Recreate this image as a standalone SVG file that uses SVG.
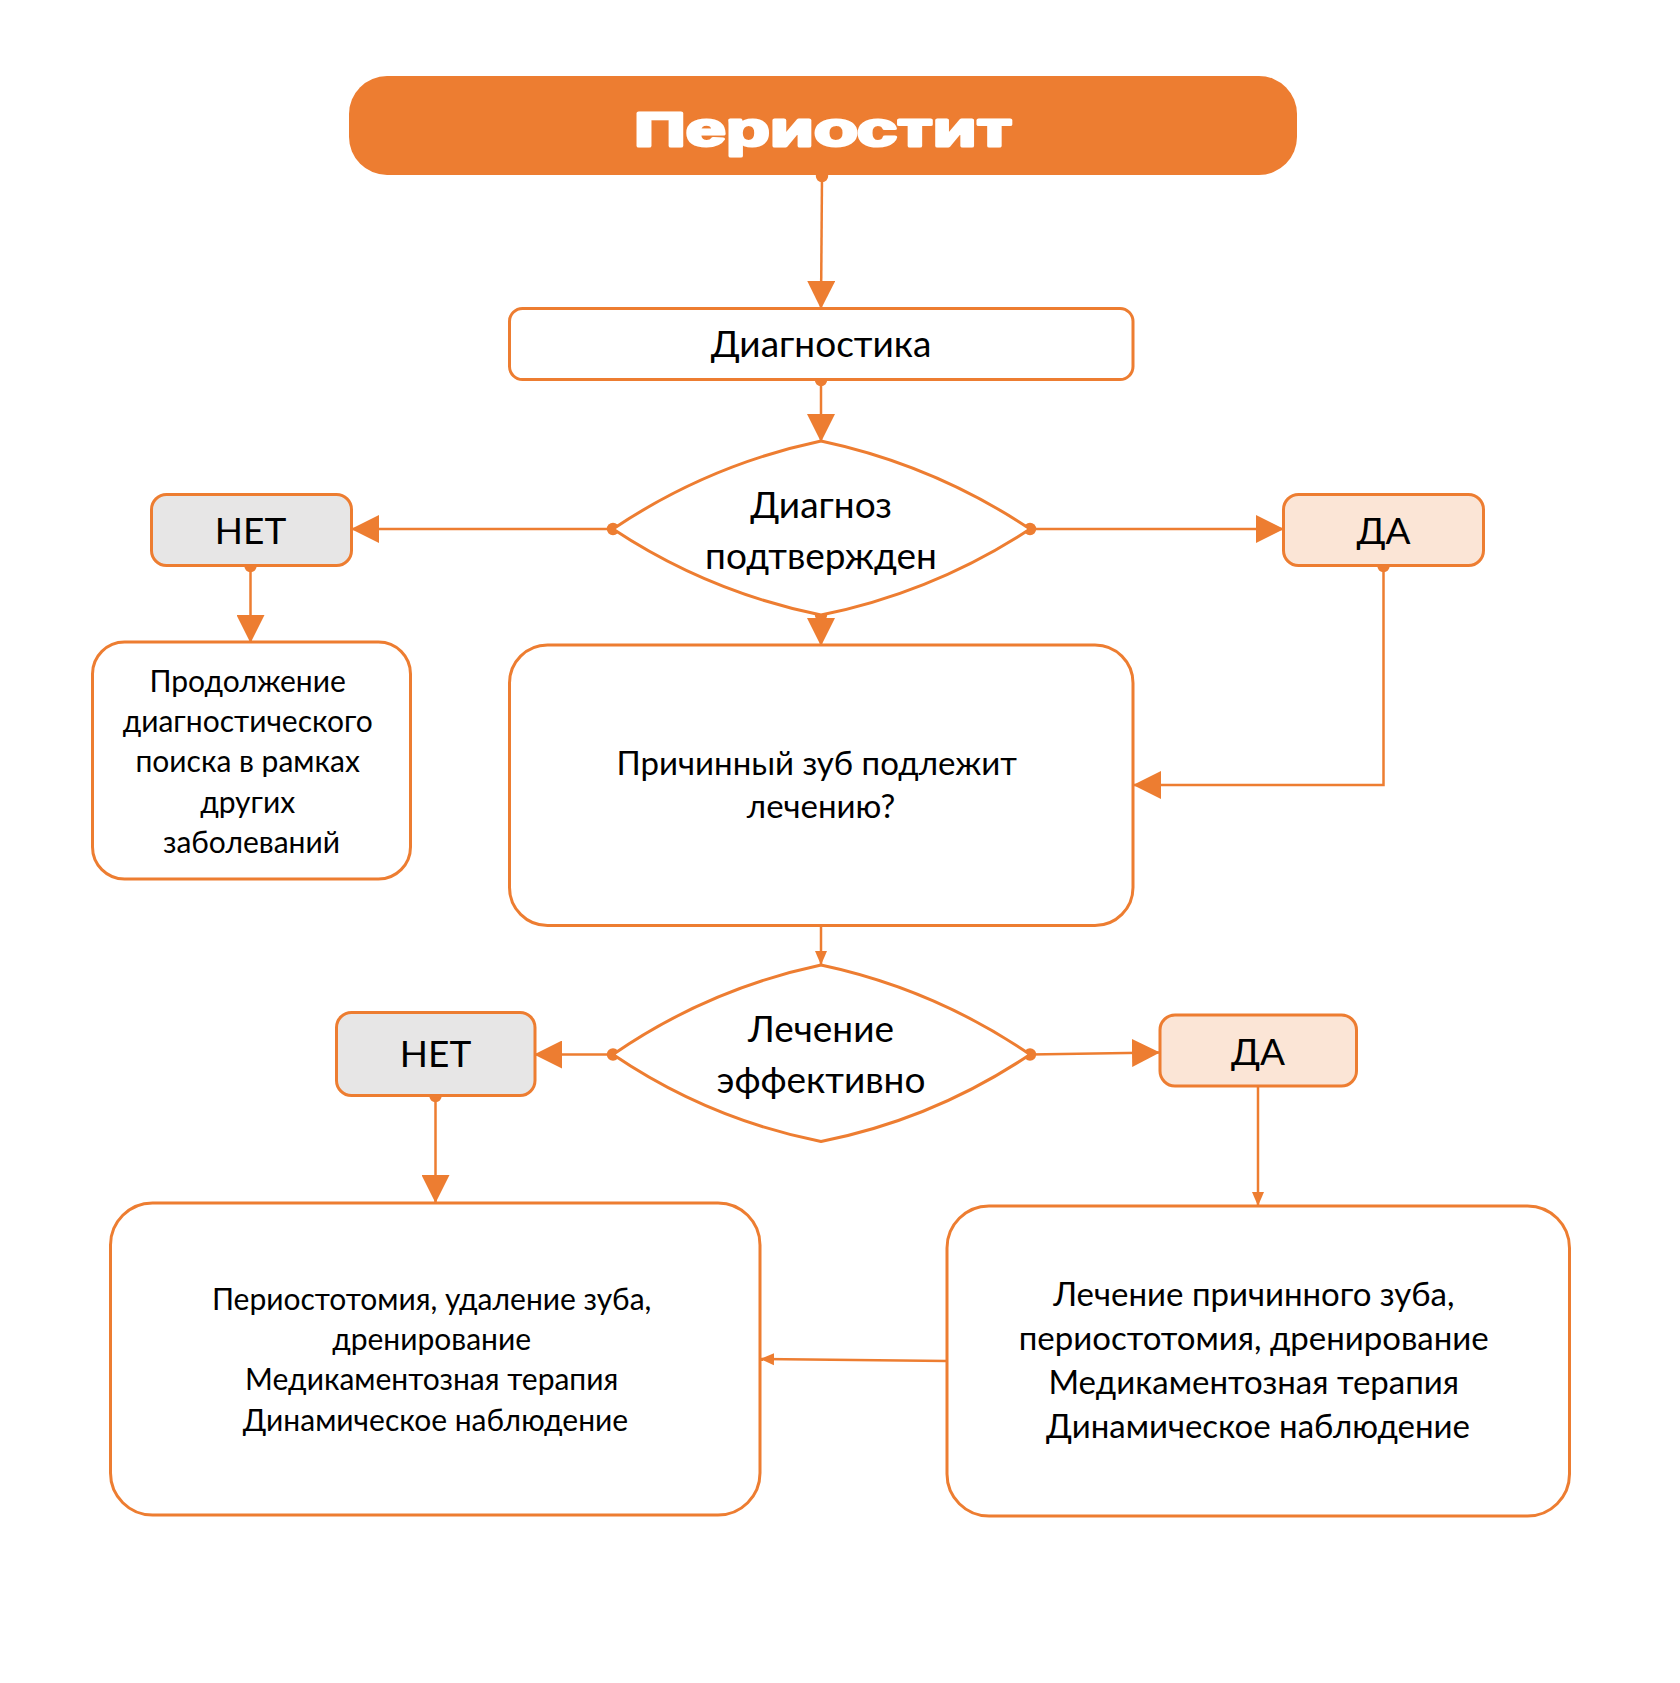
<svg xmlns="http://www.w3.org/2000/svg" width="1680" height="1683" viewBox="0 0 1680 1683">
<defs>
<style>
.box{fill:#ffffff;stroke:#ED7D31;stroke-width:3}
.no{fill:#E7E6E6;stroke:#ED7D31;stroke-width:3}
.yes{fill:#FBE5D6;stroke:#ED7D31;stroke-width:3}
.dia{fill:#ffffff;stroke:#ED7D31;stroke-width:3;stroke-linejoin:round}
.con{fill:none;stroke:#ED7D31;stroke-width:2.5}
.t{font-family:Lato,"Open Sans","Liberation Sans",sans-serif;fill:#000000;text-anchor:middle}
</style>
<marker id="big" viewBox="0 0 28 28" refX="27" refY="14" markerWidth="28" markerHeight="28" markerUnits="userSpaceOnUse" orient="auto">
<path d="M0,0 L28,14 L0,28 Z" fill="#ED7D31"/>
</marker>
<marker id="small" viewBox="0 0 14 14" refX="13" refY="7" markerWidth="14" markerHeight="14" markerUnits="userSpaceOnUse" orient="auto">
<path d="M0,1 L14,7 L0,13 Z" fill="#ED7D31"/>
</marker>
<marker id="dot" viewBox="0 0 14 14" refX="7" refY="7" markerWidth="14" markerHeight="14" markerUnits="userSpaceOnUse">
<circle cx="7" cy="7" r="6.2" fill="#ED7D31"/>
</marker>
</defs>
<rect width="1680" height="1683" fill="#ffffff"/>

<g id="connectors">
<path class="con" d="M822,176 L821,308" marker-start="url(#dot)" marker-end="url(#big)"/>
<path class="con" d="M821,380 L821,441" marker-start="url(#dot)" marker-end="url(#big)"/>
<path class="con" d="M613,529 L352,529" marker-start="url(#dot)" marker-end="url(#big)"/>
<path class="con" d="M1030,529 L1283,529" marker-start="url(#dot)" marker-end="url(#big)"/>
<path class="con" d="M250.5,566 L250.5,642" marker-start="url(#dot)" marker-end="url(#big)"/>
<path class="con" d="M821,615 L821,645" marker-start="url(#dot)" marker-end="url(#big)"/>
<path class="con" d="M1383.5,566 L1383.5,785 L1134,785" marker-start="url(#dot)" marker-end="url(#big)"/>
<path class="con" d="M821,926 L821,964" marker-end="url(#small)"/>
<path class="con" d="M613,1054.5 L535,1054.5" marker-start="url(#dot)" marker-end="url(#big)"/>
<path class="con" d="M1030,1054.5 L1159,1052.5" marker-start="url(#dot)" marker-end="url(#big)"/>
<path class="con" d="M435.5,1096 L435.5,1202" marker-start="url(#dot)" marker-end="url(#big)"/>
<path class="con" d="M1258,1086 L1258,1205" marker-end="url(#small)"/>
<path class="con" d="M947,1361 L761,1359" marker-end="url(#small)"/>
</g>

<g id="title">
<rect x="349" y="76" width="948" height="99" rx="38" fill="#ED7D31"/>
<text x="823" y="146" font-family="'Liberation Sans',Arial,sans-serif" font-weight="bold" font-size="48" fill="#ffffff" stroke="#ffffff" stroke-width="3" stroke-linejoin="round" text-anchor="middle" textLength="378" lengthAdjust="spacingAndGlyphs">Периостит</text>
</g>

<g id="diagnostika">
<rect class="box" x="509.5" y="308.5" width="623.5" height="71" rx="13"/>
<text class="t" x="821" y="357" font-size="37">Диагностика</text>
</g>

<g id="decision1">
<path class="dia" d="M821,441 Q708,465 613,529 Q708,592 821,615 Q934,592 1030,529 Q934,465 821,441 Z"/>
<text class="t" x="821" y="518" font-size="37">Диагноз</text>
<text class="t" x="821" y="569" font-size="37">подтвержден</text>
</g>

<g id="no1">
<rect class="no" x="151.5" y="494.5" width="200" height="71" rx="15"/>
<text class="t" x="250.5" y="544" font-size="37">НЕТ</text>
</g>

<g id="yes1">
<rect class="yes" x="1283.5" y="494.5" width="200" height="71" rx="15"/>
<text class="t" x="1383.5" y="544" font-size="37">ДА</text>
</g>

<g id="continue">
<rect class="box" x="92.5" y="642" width="318" height="237" rx="32"/>
<text class="t" font-size="30">
<tspan x="251.5" y="692">Продолжение</tspan>
<tspan x="251.5" y="732">диагностического</tspan>
<tspan x="251.5" y="772">поиска в рамках</tspan>
<tspan x="251.5" y="813">других</tspan>
<tspan x="251.5" y="853">заболеваний</tspan>
</text>
</g>

<g id="tooth">
<rect class="box" x="509.5" y="645" width="623.5" height="280.5" rx="38"/>
<text class="t" font-size="33">
<tspan x="821" y="775">Причинный зуб подлежит</tspan>
<tspan x="821" y="818">лечению?</tspan>
</text>
</g>

<g id="decision2">
<path class="dia" d="M821,965 Q708,989 613,1054.5 Q708,1119 821,1141.5 Q934,1119 1030,1054.5 Q934,989 821,965 Z"/>
<text class="t" x="821" y="1042" font-size="37">Лечение</text>
<text class="t" x="821" y="1093" font-size="37">эффективно</text>
</g>

<g id="no2">
<rect class="no" x="336.5" y="1012.5" width="198.5" height="83" rx="15"/>
<text class="t" x="435.5" y="1067" font-size="37">НЕТ</text>
</g>

<g id="yes2">
<rect class="yes" x="1160" y="1015" width="196.5" height="71" rx="15"/>
<text class="t" x="1258" y="1065" font-size="37">ДА</text>
</g>

<g id="surgery">
<rect class="box" x="110.5" y="1203" width="649.5" height="312" rx="42"/>
<text class="t" font-size="30">
<tspan x="435.5" y="1310">Периостотомия, удаление зуба,</tspan>
<tspan x="435.5" y="1350">дренирование</tspan>
<tspan x="435.5" y="1390">Медикаментозная терапия</tspan>
<tspan x="435.5" y="1431">Динамическое наблюдение</tspan>
</text>
</g>

<g id="treatment">
<rect class="box" x="947" y="1206" width="622.5" height="310" rx="42"/>
<text class="t" font-size="33">
<tspan x="1258" y="1306">Лечение причинного зуба,</tspan>
<tspan x="1258" y="1350">периостотомия, дренирование</tspan>
<tspan x="1258" y="1394">Медикаментозная терапия</tspan>
<tspan x="1258" y="1438">Динамическое наблюдение</tspan>
</text>
</g>
</svg>
